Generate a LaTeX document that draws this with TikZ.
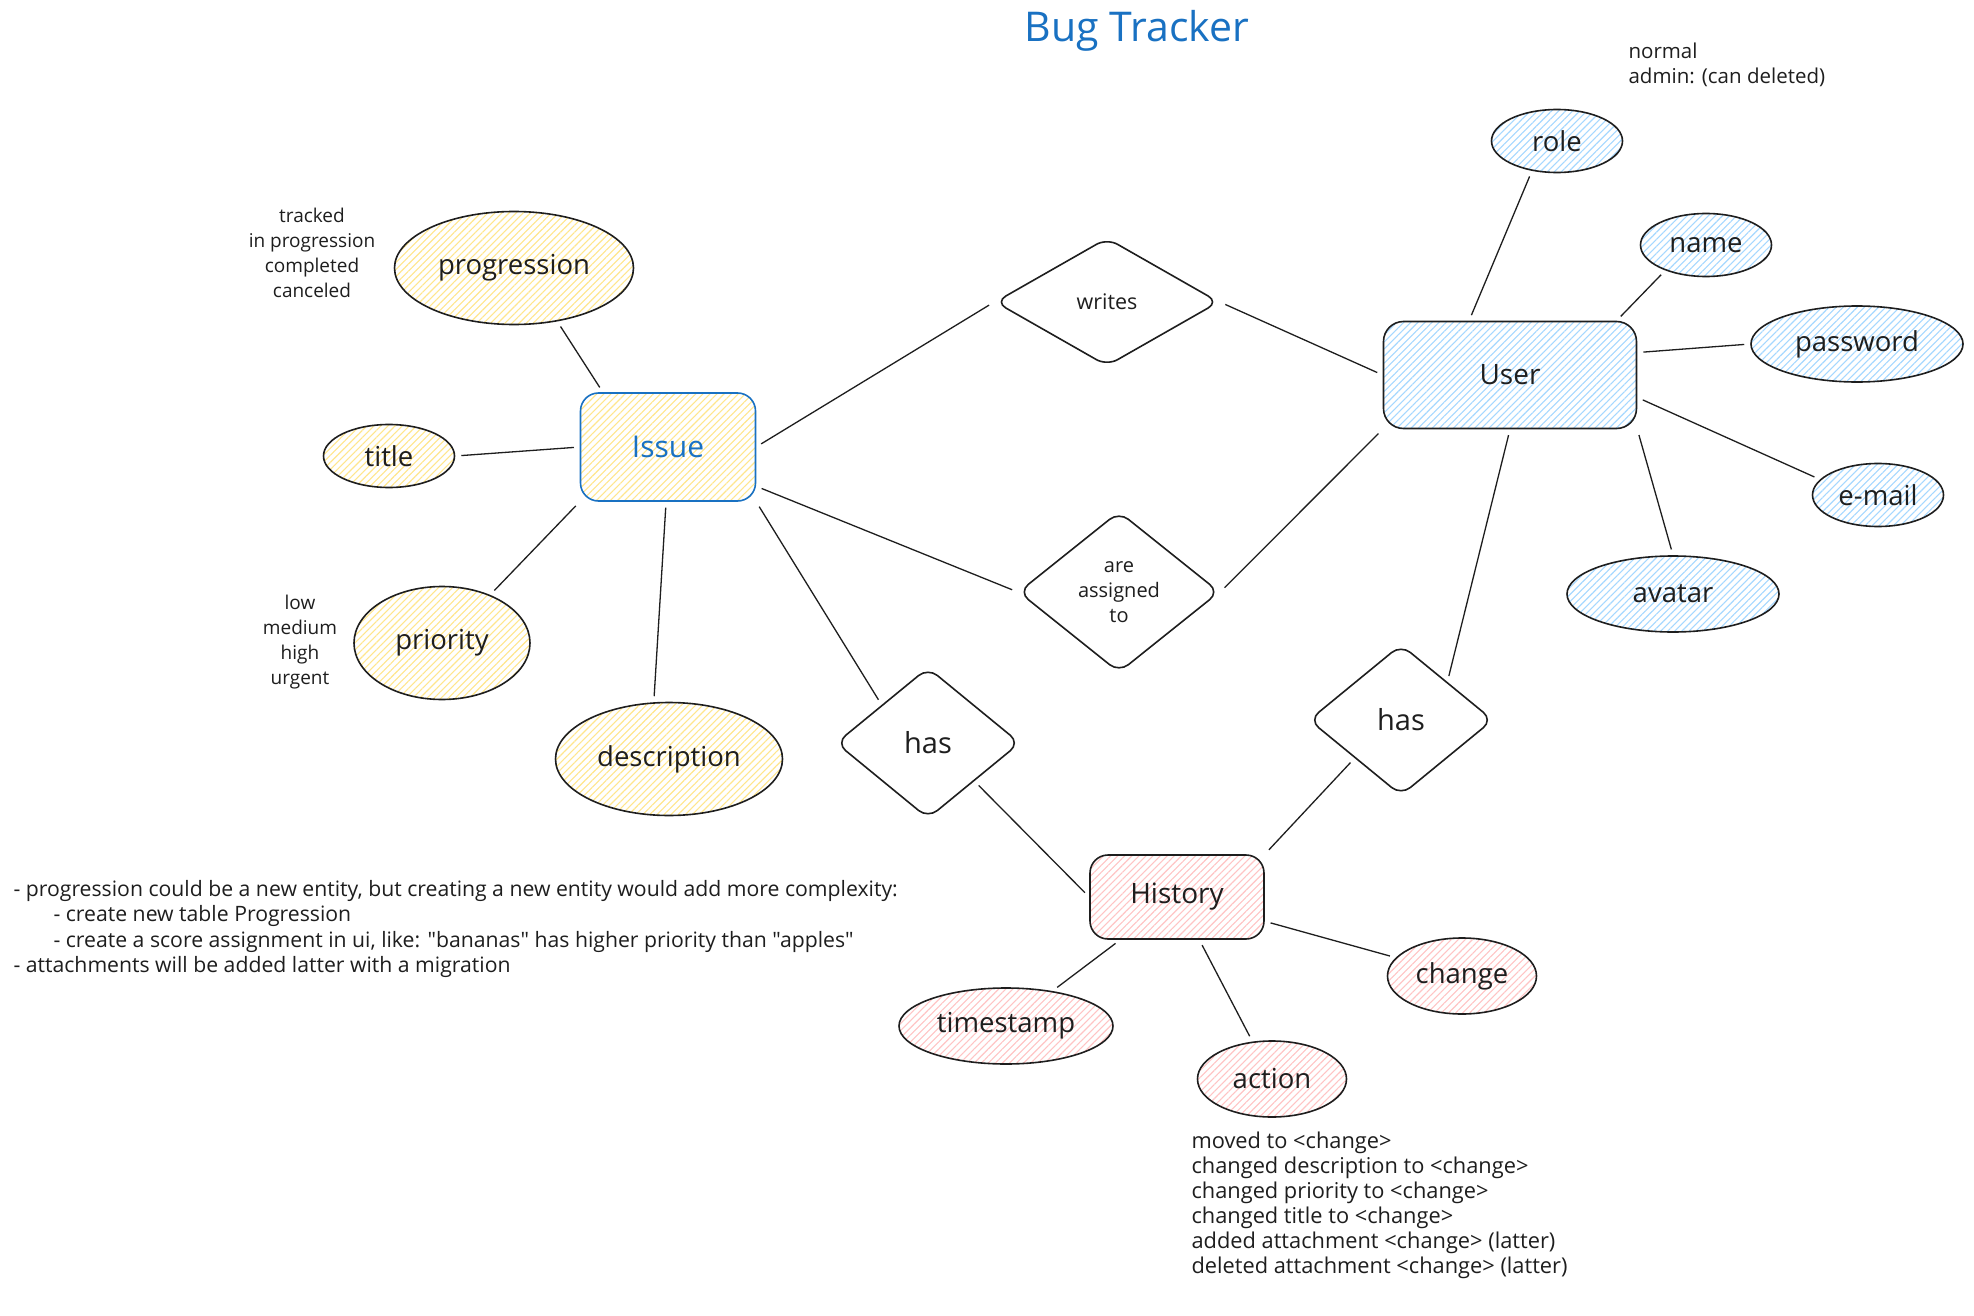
\documentclass[tikz,border=0pt]{standalone}
\usepackage{fontspec}
\setmainfont{Open Sans}[Ligatures=TeXOff]
\definecolor{INK_Color}{HTML}{1E1E1E}
\definecolor{ISSUE_Blue}{HTML}{1971C2}
\definecolor{YELLOW_Hachure}{HTML}{FFE68C}
\definecolor{BLUE_Hachure}{HTML}{A5D8FF}
\definecolor{PINK_Hachure}{HTML}{FFC4C4}
\usetikzlibrary{shapes.geometric, patterns.meta, calc}
\tikzset{
    hachure/.style={pattern={Lines[angle=45,distance=5pt,line width=1.1pt]}, pattern color=#1}, % sketchy fill
    entity node/.style={rectangle, rounded corners=18pt, draw=INK_Color, line width=1.6pt, text=INK_Color, font=\fontsize{28}{32}\selectfont},
    attribute node/.style={ellipse, draw=INK_Color, line width=1.6pt, inner sep=0, text=INK_Color, font=\fontsize{27.5}{32}\selectfont},
    relation node/.style={diamond, draw=INK_Color, line width=1.6pt, rounded corners=12pt, inner sep=0, align=center, text=INK_Color},
    link/.style={draw=INK_Color, line width=1.3pt, shorten >=6pt, shorten <=6pt}, % lines stop short of the shapes
    note text/.style={align=left, text=INK_Color, font=\fontsize{19}{25}\selectfont},
    %note text/.style={align=center},
}

\begin{document}
\begin{tikzpicture}
    [x=1pt, y=-1pt % one unit is one pixel of the sketch
    ]

\path[fill=white] (0,0) rectangle (1974,1316);
\useasboundingbox (0,0) rectangle (1974,1316);

\node[text=ISSUE_Blue, font=\fontsize{41}{45}\selectfont] (header) at (1137,31) {Bug Tracker};

% entities
\node[entity node, hachure=YELLOW_Hachure, draw=ISSUE_Blue, text=ISSUE_Blue, font=\fontsize{30}{34}\selectfont, minimum width=175pt, minimum height=108pt] (issue) at (668,447) {Issue};
\node[entity node, hachure=BLUE_Hachure, rounded corners=20pt, minimum width=253pt, minimum height=107pt] (user) at (1510,375) {User};
\node[entity node, hachure=PINK_Hachure, minimum width=174pt, minimum height=84pt] (history) at (1177,897) {History};

% relations
\node[relation node, minimum width=224pt, minimum height=128pt, font=\fontsize{21.5}{25}\selectfont] (writes) at (1107,302) {writes};
\node[relation node, minimum width=201pt, minimum height=161pt, font=\fontsize{20}{25}\selectfont] (assigned) at (1119,592) {are\\assigned\\to};
\node[relation node, minimum width=184pt, minimum height=151pt, font=\fontsize{29}{32}\selectfont] (hasissue) at (928,743) {has};
\node[relation node, minimum width=184pt, minimum height=151pt, font=\fontsize{29}{32}\selectfont] (hasuser) at (1401,720) {has};

% attributes of Issue
\node[attribute node, hachure=YELLOW_Hachure, minimum width=239pt, minimum height=113pt] (progression) at (514,268) {progression};
\node[attribute node, hachure=YELLOW_Hachure, minimum width=131pt, minimum height=63pt] (title) at (389,456) {title};
\node[attribute node, hachure=YELLOW_Hachure, minimum width=176pt, minimum height=113pt] (priority) at (442,643) {priority};
\node[attribute node, hachure=YELLOW_Hachure, minimum width=227pt, minimum height=113pt] (description) at (669,759) {description};

% attributes of User
\node[attribute node, hachure=BLUE_Hachure, minimum width=131pt, minimum height=63pt] (role) at (1557,141) {role};
\node[attribute node, hachure=BLUE_Hachure, minimum width=131pt, minimum height=63pt] (name) at (1706,245) {name};
\node[attribute node, hachure=BLUE_Hachure, minimum width=212pt, minimum height=76pt] (password) at (1857,344) {password};
\node[attribute node, hachure=BLUE_Hachure, minimum width=131pt, minimum height=63pt] (email) at (1878,495) {e-mail};
\node[attribute node, hachure=BLUE_Hachure, minimum width=212pt, minimum height=76pt] (avatar) at (1673,594) {avatar};

% attributes of History
\node[attribute node, hachure=PINK_Hachure, minimum width=214pt, minimum height=76pt] (timestamp) at (1006,1026) {timestamp};
\node[attribute node, hachure=PINK_Hachure, minimum width=149pt, minimum height=76pt] (action) at (1272,1079) {action};
\node[attribute node, hachure=PINK_Hachure, minimum width=149pt, minimum height=76pt] (change) at (1462,976) {change};

% remarks
\node[note text, align=center] (progressionvalues) at (312,253) {tracked\\in progression\\completed\\canceled};
\node[note text, align=center] (priorityvalues) at (300,642) {low\\medium\\high\\urgent};
\node[note text, anchor=west, font=\fontsize{20.5}{25}\selectfont] (rolevalues) at (1625,65) {normal\\admin: (can deleted)};
\node[note text, anchor=west, font=\fontsize{21.8}{25}\selectfont] (actionvalues) at (1188,1205) {moved to <change>\\changed description to <change>\\changed priority to <change>\\changed title to <change>\\added attachment <change> (latter)\\deleted attachment <change> (latter)};
\node[note text, anchor=west, font=\fontsize{21.2}{25.5}\selectfont] (designnotes) at (10,929) {- progression could be a new entity, but creating a new entity would add more complexity:\\
\hspace*{40pt}- create new table Progression\\
\hspace*{40pt}- create a score assignment in ui, like: "bananas" has higher priority than "apples"\\
- attachments will be added latter with a migration};

% connectors
\draw[link] (progression.-51) -- (issue.140);
\draw[link] (title.east) -- (issue.west);
\draw[link] (issue.south west) -- (priority.45);
\draw[link] (issue.-92) -- (description.105);
\draw[link] (issue.east) -- (writes.west);
\draw[link] (writes.east) -- (user.west);
\draw[link] (issue.-24) -- (assigned.west);
\draw[link] (assigned.east) -- (user.south west);
\draw[link] (issue.south east) -- (hasissue.north west);
\draw[link] (hasissue.south east) -- (history.west);
\draw[link] (user.south) -- (hasuser.north east);
\draw[link] (hasuser.south west) -- (history.north east);
\draw[link] (history) -- (timestamp);
\draw[link] (history) -- (action);
\draw[link] (history) -- (change);
\draw[link] (user.127) -- (role.230);
\draw[link] (user.27) -- (name.212);
\draw[link] (user.10) -- (password.west);
\draw[link] (user.-10) -- (email.165);
\draw[link] (user.south east) -- (avatar.north);
\end{tikzpicture}
\end{document}
